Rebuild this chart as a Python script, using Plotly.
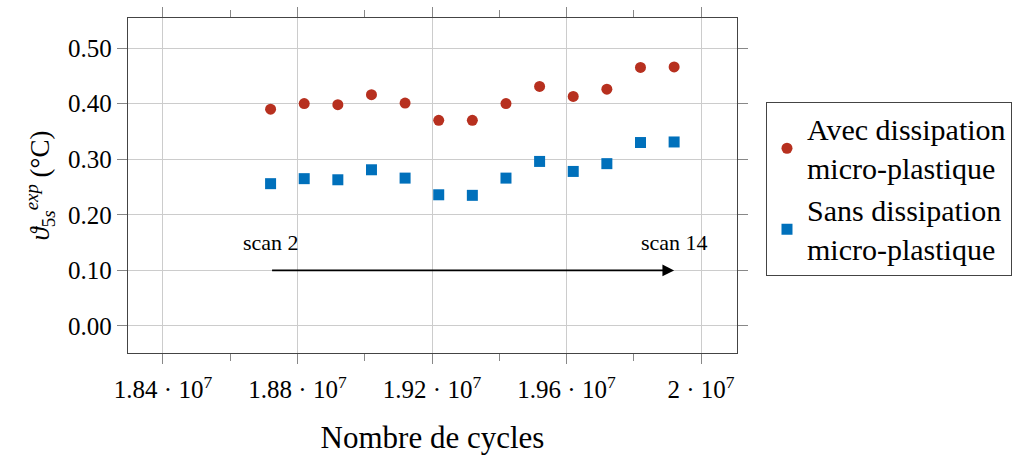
import plotly.graph_objects as go

# cycle numbers (scan 2 .. scan 14)
cycles = [1.872e7, 1.882e7, 1.892e7, 1.902e7, 1.912e7, 1.922e7, 1.932e7,
          1.942e7, 1.952e7, 1.962e7, 1.972e7, 1.982e7, 1.992e7]
avec = [0.390, 0.400, 0.398, 0.416, 0.401, 0.370, 0.370,
        0.400, 0.431, 0.413, 0.426, 0.465, 0.466]
sans = [0.256, 0.265, 0.263, 0.281, 0.266, 0.236, 0.235,
        0.266, 0.296, 0.278, 0.292, 0.330, 0.331]

x_tickvals = [1.84e7, 1.88e7, 1.92e7, 1.96e7, 2.0e7]
x_ticktext = ["1.84 · 10<sup>7</sup>", "1.88 · 10<sup>7</sup>", "1.92 · 10<sup>7</sup>",
              "1.96 · 10<sup>7</sup>", "2 · 10<sup>7</sup>"]
y_tickvals = [0.0, 0.1, 0.2, 0.3, 0.4, 0.5]
y_ticktext = ["0.00", "0.10", "0.20", "0.30", "0.40", "0.50"]

arrow_y = 0.10
label_y = 0.15

FONT = "Liberation Serif"
RED = "#B7301F"
BLUE = "#0070BB"

fig = go.Figure()
fig.add_trace(go.Scatter(x=cycles, y=avec, mode="markers",
                         name="Avec dissipation<br>micro-plastique",
                         marker=dict(symbol="circle", size=11, color=RED)))
fig.add_trace(go.Scatter(x=cycles, y=sans, mode="markers",
                         name="Sans dissipation<br>micro-plastique",
                         marker=dict(symbol="square", size=11, color=BLUE)))

# arrow scan 2 -> scan 14
fig.add_annotation(x=cycles[-1], y=arrow_y, ax=cycles[0], ay=arrow_y,
                   xref="x", yref="y", axref="x", ayref="y", text="",
                   showarrow=True, arrowhead=2, arrowsize=1.3, arrowwidth=1.8,
                   arrowcolor="black")
fig.add_annotation(x=cycles[0], y=label_y, text="scan 2", showarrow=False,
                   font=dict(family=FONT, size=22, color="black"))
fig.add_annotation(x=cycles[-1], y=label_y, text="scan 14", showarrow=False,
                   font=dict(family=FONT, size=22, color="black"))

axis_common = dict(showline=True, linecolor="#444", linewidth=1.3, mirror="ticks",
                   ticks="outside", ticklen=10, tickcolor="#888", tickwidth=1,
                   showgrid=True, gridcolor="#cccccc", gridwidth=1, zeroline=False,
                   automargin=False,
                   tickfont=dict(family=FONT, size=25, color="black"))

fig.update_xaxes(range=[1.8296e7, 2.0107e7], tickmode="array",
                 tickvals=x_tickvals, ticktext=x_ticktext, ticklabelstandoff=4,
                 minor=dict(dtick=0.02e7, tick0=1.84e7, ticks="outside", ticklen=7,
                            tickcolor="#888", showgrid=False),
                 title=dict(text="Nombre de cycles", font=dict(family=FONT, size=31, color="black"),
                            standoff=24),
                 **axis_common)
fig.update_yaxes(range=[-0.0486, 0.554], tickmode="array",
                 tickvals=y_tickvals, ticktext=y_ticktext,
                 title=dict(text="<i>ϑ</i><sub>5<i>s</i></sub><sup><i>exp</i></sup> (°C)",
                            font=dict(family=FONT, size=27, color="black"), standoff=10),
                 **axis_common)

fig.update_layout(
    width=1024, height=457,
    margin=dict(l=128, r=287, t=18, b=104),
    plot_bgcolor="white", paper_bgcolor="white",
    font=dict(family=FONT, color="black"),
    legend=dict(x=1.0476, y=0.75, xanchor="left", yanchor="top",
                bordercolor="#444", borderwidth=1,
                font=dict(family=FONT, size=30, color="black")),
)

# page has a default 8px body margin; drop it so the figure sits at (0, 0)
fig.write_html("out.html", config={"displayModeBar": False},
               post_script="document.body.style.margin='0';")
